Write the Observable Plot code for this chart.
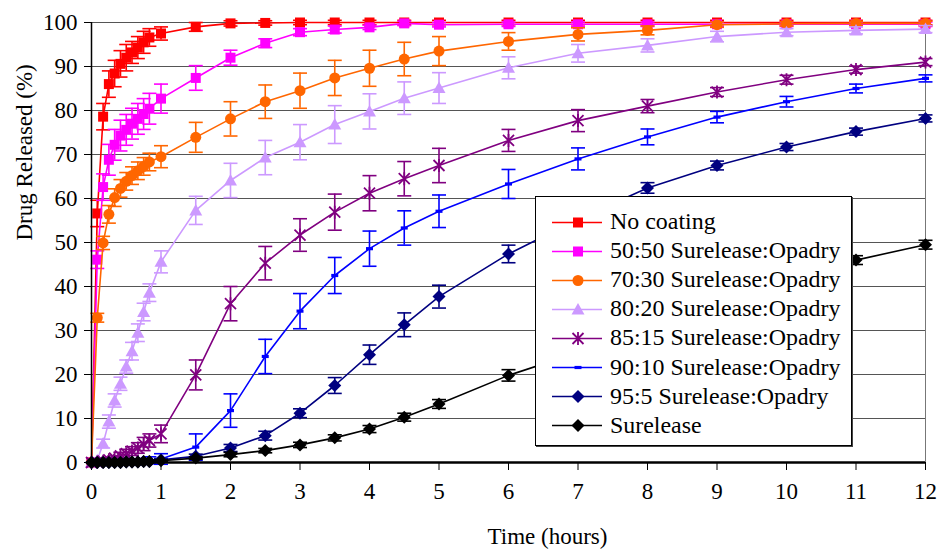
<!DOCTYPE html>
<html><head><meta charset="utf-8">
<script src="https://cdn.jsdelivr.net/npm/d3@7"></script>
<script src="https://cdn.jsdelivr.net/npm/@observablehq/plot@0.6"></script>
<style>
body{margin:0;background:#fff;}
#wrap{position:relative;width:937px;height:552px;font-family:'Liberation Serif','Times New Roman',serif;}
#legend{position:absolute;left:535px;top:196px;width:317px;height:250px;border:1px solid #000;background:#fff;box-shadow:1px 1px 0 #444;box-sizing:border-box;}
.row{position:absolute;left:14px;height:29px;display:flex;align-items:center;font-size:23px;color:#000;white-space:nowrap;}
.row svg{margin-right:4px;}
.row span{display:inline-block;transform:scaleX(1.04);transform-origin:left center;}
</style></head><body><div id="wrap"><div id="legend"></div></div>
<script>
// ---- data ----
const times = [0, 0.083, 0.167, 0.25, 0.333, 0.417, 0.5, 0.583, 0.667, 0.75, 0.833, 1, 1.5, 2, 2.5, 3, 3.5, 4, 4.5, 5, 6, 7, 8, 9, 10, 11, 12];
const xTicks = [0,1,2,3,4,5,6,7,8,9,10,11,12];
const yTicks = [0,10,20,30,40,50,60,70,80,90,100];
const seriesNames = ["No coating","50:50 Surelease:Opadry","70:30 Surelease:Opadry","80:20 Surelease:Opadry","85:15 Surelease:Opadry","90:10 Surelease:Opadry","95:5 Surelease:Opadry","Surelease"];
const seriesColors = ["#FF0000","#FF00FF","#FF6600","#CC99FF","#800080","#0000FF","#000080","#000000"];
const seriesSymbols = ["square","square","circle","triangle","asterisk","dash","diamond","diamond"];

const noCoating   = [0, 56.6, 78.6, 86.0, 88.4, 90.6, 92.0, 93.2, 94.3, 95.5, 96.6, 97.5, 99.0, 99.8, 99.9, 100, 100, 100, 100, 100, 100, 100, 100, 100, 100, 100, 100];
const noCoatingErr= [0, 3, 3, 3, 3, 3, 3, 2.5, 2.5, 2.5, 2, 1.5, 1, 0.6, 0.5, 0.5, 0.5, 0.5, 0.5, 0.5, 0.5, 0.5, 0.5, 0.5, 0.5, 0.5, 0.5];
const s5050       = [0, 46.1, 62.6, 68.8, 72.2, 74.3, 75.6, 77.0, 78.1, 79.2, 80.4, 82.7, 87.4, 92.0, 95.3, 97.8, 98.4, 98.9, 99.8, 99.5, 99.6, 99.6, 99.6, 99.6, 99.6, 99.6, 99.6];
const s5050Err    = [0, 2, 3, 3.5, 3.5, 3.5, 3.5, 3.5, 3.5, 3.5, 3.5, 3.3, 2.8, 1.7, 1, 0.8, 0.8, 0.5, 0.5, 0.5, 0.5, 0.5, 0.5, 0.5, 0.5, 0.5, 0.5];
const s7030       = [0, 32.9, 49.9, 56.4, 60.2, 62.3, 63.9, 65.2, 66.3, 67.3, 68.3, 69.5, 73.9, 78.1, 82.0, 84.5, 87.4, 89.6, 91.7, 93.5, 95.7, 97.3, 98.2, 99.5, 99.7, 99.8, 99.8];
const s7030Err    = [0, 1, 1.5, 2, 2, 2, 2, 2, 2, 2, 2, 2.5, 3.4, 3.9, 3.8, 4, 4, 4.1, 3.8, 3.3, 2, 1.5, 1, 0.6, 0.5, 0.5, 0.5];
const s8020       = [0, 0.5, 4.3, 9.3, 14.1, 17.9, 21.8, 25.3, 29.5, 34.2, 38.6, 45.6, 57.3, 64.1, 69.3, 72.8, 76.8, 79.8, 82.8, 85.1, 89.7, 93.0, 94.8, 96.8, 97.8, 98.2, 98.5];
const s8020Err    = [0, 0.5, 1, 1.5, 1.5, 1.5, 1.5, 2, 2, 2, 2, 2.5, 3.2, 3.9, 3.9, 4, 4.3, 4, 3.7, 3.5, 2.5, 2, 1.5, 1.2, 0.8, 0.8, 0.8];
const s8515       = [0, 0.1, 0.3, 0.6, 1.0, 1.5, 2.0, 2.6, 3.3, 4.2, 5.0, 6.5, 19.9, 36.1, 45.3, 51.7, 56.9, 61.2, 64.5, 67.5, 73.2, 77.7, 81.0, 84.2, 87.0, 89.3, 91.0];
const s8515Err    = [0, 0.3, 0.3, 0.5, 0.5, 0.8, 1, 1, 1.2, 1.5, 1.5, 2, 3.4, 3.9, 3.8, 3.7, 4.1, 4, 3.9, 3.9, 2.5, 2.5, 1.5, 1, 1, 0.8, 0.8];
const s9010       = [0, 0, 0, 0, 0.1, 0.1, 0.2, 0.2, 0.3, 0.4, 0.5, 0.8, 3.5, 11.8, 24.1, 34.4, 42.5, 48.6, 53.3, 57.1, 63.3, 69.0, 74.0, 78.5, 82.0, 85.0, 87.3];
const s9010Err    = [0, 0.2, 0.2, 0.2, 0.3, 0.3, 0.5, 0.5, 0.5, 0.5, 0.8, 1.2, 3, 3.8, 3.9, 4, 4.1, 4, 3.9, 3.7, 3.3, 2.5, 1.8, 1.3, 1.2, 1, 0.8];
const s955        = [0, 0, 0, 0, 0, 0, 0.1, 0.1, 0.1, 0.2, 0.2, 0.6, 1.4, 3.3, 6.1, 11.2, 17.5, 24.5, 31.3, 37.7, 47.4, 55.3, 62.4, 67.5, 71.7, 75.2, 78.2];
const s955Err     = [0, 0, 0, 0, 0, 0, 0.1, 0.1, 0.1, 0.1, 0.2, 0.3, 0.5, 0.8, 1, 1, 1.8, 2.2, 2.7, 2.6, 2, 1.5, 1.2, 1, 0.8, 0.8, 0.8];
const surelease   = [0, 0, 0, 0, 0, 0, 0.1, 0.1, 0.1, 0.2, 0.2, 0.4, 1.0, 1.8, 2.7, 4.0, 5.6, 7.6, 10.3, 13.3, 19.8, 25.0, 30.5, 36.0, 41.5, 46.0, 49.5];
const sureleaseErr= [0, 0, 0, 0, 0, 0, 0.1, 0.1, 0.1, 0.1, 0.1, 0.2, 0.3, 0.5, 0.5, 0.6, 0.7, 0.8, 0.9, 1, 1.3, 1.2, 1.2, 1.1, 1, 1, 1];

const seriesValues = [noCoating, s5050, s7030, s8020, s8515, s9010, s955, surelease];
const seriesErrors = [noCoatingErr, s5050Err, s7030Err, s8020Err, s8515Err, s9010Err, s955Err, sureleaseErr];

const FONT = "'Liberation Serif','Times New Roman',serif";

// ---- symbols (pixel-sized) ----
const sym = {
  square:   {draw(c){c.rect(-5,-5,10,10);}},
  circle:   {draw(c){c.moveTo(5.5,0);c.arc(0,0,5.5,0,2*Math.PI);}},
  triangle: {draw(c){c.moveTo(0,-6.5);c.lineTo(6.5,5);c.lineTo(-6.5,5);c.closePath();}},
  asterisk: {draw(c){c.moveTo(0,-6.5);c.lineTo(0,6.5);c.moveTo(-5.5,-5.5);c.lineTo(5.5,5.5);c.moveTo(-5.5,5.5);c.lineTo(5.5,-5.5);}},
  dash:     {draw(c){c.rect(-3.5,-1.6,7,3.2);}},
  diamond:  {draw(c){c.moveTo(0,-6.5);c.lineTo(6.5,0);c.lineTo(0,6.5);c.lineTo(-6.5,0);c.closePath();}},
  cap:      {draw(c){c.moveTo(-7,0);c.lineTo(7,0);}}
};
const stroked = s => s === "asterisk";

// ---- build marks ----
const marks = [
  Plot.gridY(yTicks.filter(d => d > 0), {stroke: "#555", strokeOpacity: 1, strokeWidth: 1}),
  Plot.ruleX([12], {y1: 0, y2: 100, stroke: "#777", strokeWidth: 1}),
  Plot.axisY({ticks: yTicks, tickSize: 7, tickPadding: 7, fontSize: 23, label: null}),
  Plot.axisX({ticks: xTicks, tickSize: 8, tickPadding: 12, fontSize: 23, label: null, tickFormat: d => d}),
];
seriesNames.forEach((name, i) => {
  const color = seriesColors[i];
  const data = times.map((t, j) => ({t, v: seriesValues[i][j], e: seriesErrors[i][j]}));
  const eb = data.filter(d => d.e > 0.15);
  marks.push(
    Plot.ruleX(eb, {x: "t", y1: d => d.v - d.e, y2: d => d.v + d.e, stroke: color, strokeWidth: 1.6}),
    Plot.dot(eb, {x: "t", y: d => d.v + d.e, symbol: sym.cap, stroke: color, fill: "none", strokeWidth: 1.6}),
    Plot.dot(eb, {x: "t", y: d => d.v - d.e, symbol: sym.cap, stroke: color, fill: "none", strokeWidth: 1.6}),
    Plot.line(data, {x: "t", y: "v", stroke: color, strokeWidth: 1.6}),
    stroked(seriesSymbols[i])
      ? Plot.dot(data, {x: "t", y: "v", symbol: sym[seriesSymbols[i]], stroke: color, fill: "none", strokeWidth: 1.8})
      : Plot.dot(data, {x: "t", y: "v", symbol: sym[seriesSymbols[i]], fill: color, stroke: "none"})
  );
});
marks.push(
  Plot.ruleY([0], {stroke: "#000", strokeWidth: 2.5}),
  Plot.ruleX([0], {y1: 0, y2: 100, stroke: "#000", strokeWidth: 1.5}),
  Plot.text(["Drug Released (%)"], {text: d => d, frameAnchor: "left", rotate: -90, dx: -67, dy: -2, fontSize: 23, fill: "#000"}),
  Plot.text(["Time (hours)"], {text: d => d, frameAnchor: "bottom", dx: 39, dy: 81, fontSize: 23, fill: "#000"})
);

const chart = Plot.plot({
  width: 937, height: 552,
  marginLeft: 91, marginRight: 12, marginTop: 22, marginBottom: 90,
  x: {domain: [0, 12]},
  y: {domain: [0, 100]},
  style: {fontFamily: FONT, fontSize: "23px", color: "#000", background: "#fff", overflow: "visible"},
  marks
});
document.getElementById("wrap").prepend(chart);

// ---- legend ----
const legend = document.getElementById("legend");
seriesNames.forEach((name, i) => {
  const row = document.createElement("div");
  row.className = "row";
  row.style.top = (25 + i * 29.1 - 14.5) + "px";
  const svg = d3.create("svg").attr("width", 56).attr("height", 29);
  svg.append("line").attr("x1", 2).attr("x2", 52).attr("y1", 14.5).attr("y2", 14.5)
    .attr("stroke", seriesColors[i]).attr("stroke-width", 1.6);
  const p = d3.path();
  sym[seriesSymbols[i]].draw(p);
  const path = svg.append("path").attr("d", p.toString()).attr("transform", "translate(28,14.5)");
  if (stroked(seriesSymbols[i])) path.attr("fill", "none").attr("stroke", seriesColors[i]).attr("stroke-width", 1.8);
  else path.attr("fill", seriesColors[i]);
  row.appendChild(svg.node());
  const span = document.createElement("span");
  span.textContent = name;
  row.appendChild(span);
  legend.appendChild(row);
});
</script></body></html>
